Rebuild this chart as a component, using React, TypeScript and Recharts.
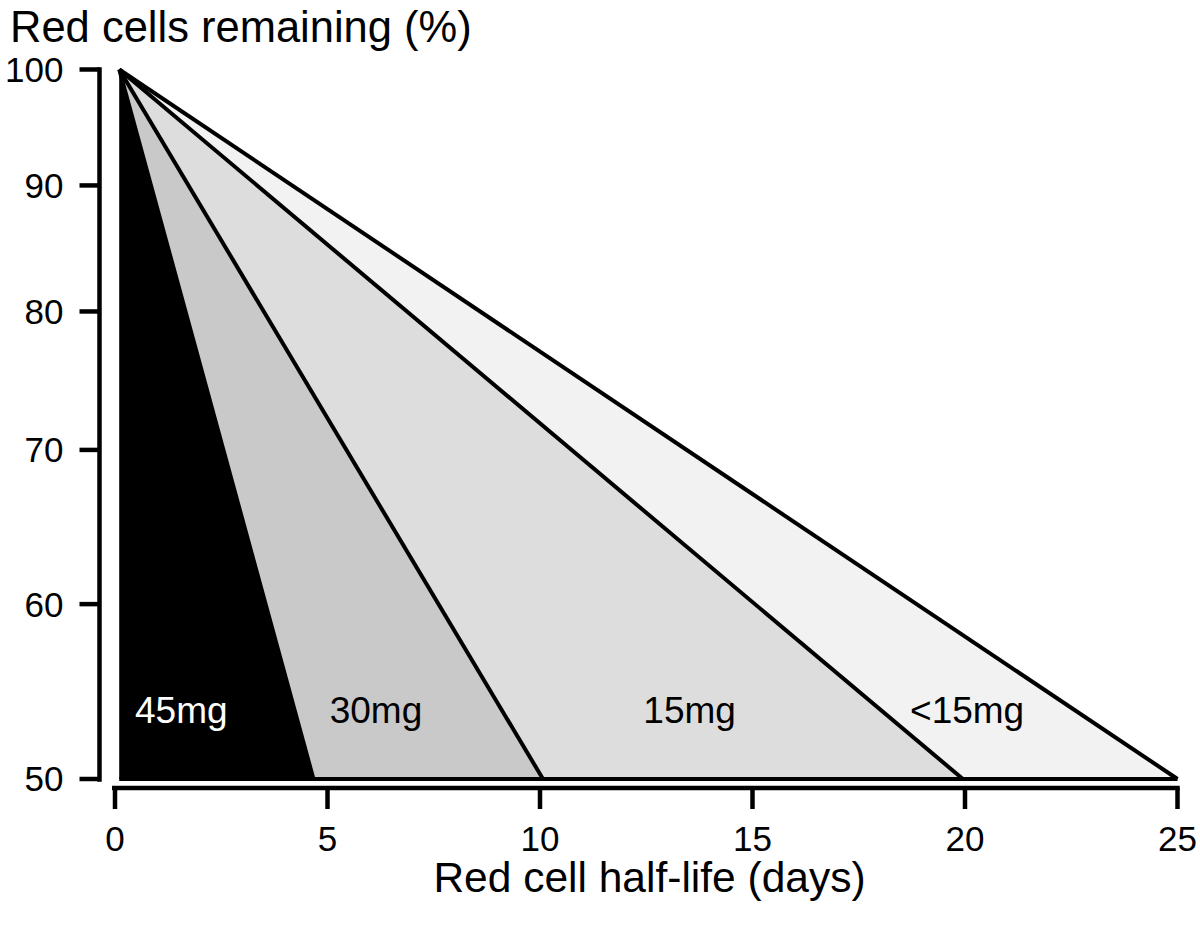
import React from 'react';
import { ComposedChart, Area, Line, XAxis, YAxis, ReferenceDot } from 'recharts';

// dose bands: each line runs from 100% at day ~0 down to 50% at endDays
const doses = ['45mg', '30mg', '15mg', '<15mg'];
const startDays = [0.1, 0.1, 0.1, 0.1];
const endDays = [4.67, 10.07, 19.95, 25];
const pctLevels = [100, 50];
const bandColors = ['#000000', '#c9c9c9', '#dddddd', '#f2f2f2'];

// text labels inside the bands
const labelDays = [1.56, 6.14, 13.52, 20.05];
const labelPct = [53.8, 53.8, 53.8, 53.8];
const labelColors = ['#ffffff', '#000000', '#000000', '#000000'];

// bottom edge of the shaded region
const baseDays = [0.1, 25];
const basePct = [50, 50];

const xTicks = [0, 5, 10, 15, 20, 25];
const yTicks = [50, 60, 70, 80, 90, 100];

const FONT = '"Liberation Sans", Arial, Helvetica, sans-serif';

// power scale (exponent 0.25) - the y axis in the figure is compressed like this
function makePowScale(exponent: number, dom: number[] = [0, 1], rng: number[] = [0, 1]) {
    let d = dom.slice();
    let r = rng.slice();
    const t = (v: number) => Math.sign(v) * Math.pow(Math.abs(v), exponent);
    const ti = (v: number) => Math.sign(v) * Math.pow(Math.abs(v), 1 / exponent);
    const scale: any = (v: number) => {
        const a = t(d[0]);
        const b = t(d[1]);
        return r[0] + ((t(Number(v)) - a) / (b - a)) * (r[1] - r[0]);
    };
    scale.domain = (nd?: number[]) => {
        if (nd === undefined) return d.slice();
        d = nd.map(Number);
        return scale;
    };
    scale.range = (nr?: number[]) => {
        if (nr === undefined) return r.slice();
        r = nr.map(Number);
        return scale;
    };
    scale.invert = (p: number) => {
        const a = t(d[0]);
        const b = t(d[1]);
        return ti(a + ((p - r[0]) / (r[1] - r[0])) * (b - a));
    };
    scale.ticks = (n = 10) => {
        const step = (d[1] - d[0]) / n;
        const out: number[] = [];
        for (let i = 0; i <= n; i++) out.push(d[0] + i * step);
        return out;
    };
    scale.tickFormat = () => (v: number) => String(v);
    scale.copy = () => makePowScale(exponent, d, r);
    return scale;
}

const pctScale = makePowScale(0.25);

export default function App() {
    // draw the biggest triangle first, smaller ones on top
    const order = [3, 2, 1, 0];

    return (
        <div style={{ position: 'absolute', left: 0, top: 0, width: 1200, height: 928, background: '#fff' }}>
            <ComposedChart
                width={1200}
                height={928}
                margin={{ top: 69.5, right: 22.5, bottom: 0, left: 0 }}
                style={{ fontFamily: FONT }}
            >
                <XAxis
                    type="number"
                    dataKey="day"
                    domain={[0, 25]}
                    ticks={xTicks}
                    interval={0}
                    padding={{ left: 15.5, right: 0 }}
                    height={140}
                    stroke="#000"
                    axisLine={{ stroke: '#000', strokeWidth: 4.5, strokeLinecap: 'square', strokeDasharray: '1100 3000', strokeDashoffset: -14.75 }}
                    tickLine={{ stroke: '#000', strokeWidth: 4.5 }}
                    tickSize={21}
                    tickMargin={17}
                    tick={{ fill: '#000', fontSize: 35, fontFamily: FONT }}
                    label={{
                        content: (props: any) => {
                            const vb = props.viewBox;
                            return (
                                <text x={vb.x + vb.width / 2 + 11} y={vb.y + 104} textAnchor="middle" fontSize={42.5} fontFamily={FONT} fill="#000">
                                    Red cell half-life (days)
                                </text>
                            );
                        },
                    }}
                />
                <YAxis
                    type="number"
                    domain={[50, 100]}
                    ticks={yTicks}
                    interval={0}
                    scale={pctScale}
                    padding={{ top: 0, bottom: 9 }}
                    width={99.5}
                    stroke="#000"
                    axisLine={{ stroke: '#000', strokeWidth: 4.5, strokeLinecap: 'square', strokeDasharray: '710 1000' }}
                    tickLine={{ stroke: '#000', strokeWidth: 4.5 }}
                    tickSize={20}
                    tickMargin={16}
                    tick={{ fill: '#000', fontSize: 35, fontFamily: FONT }}
                    label={{
                        content: (props: any) => {
                            const vb = props.viewBox;
                            return (
                                <text x={vb.x + 10} y={vb.y - 28} textAnchor="start" fontSize={43.5} fontFamily={FONT} fill="#000">
                                    Red cells remaining (%)
                                </text>
                            );
                        },
                    }}
                />

                {order.map((i) => (
                    <Area
                        key={doses[i]}
                        data={pctLevels.map((pct, k) => ({ day: k === 0 ? startDays[i] : endDays[i], pct }))}
                        dataKey="pct"
                        type="linear"
                        baseValue={50}
                        stroke="#000"
                        strokeWidth={4}
                        fill={bandColors[i]}
                        fillOpacity={1}
                        dot={false}
                        activeDot={false}
                        isAnimationActive={false}
                    />
                ))}

                <Line
                    data={baseDays.map((day, k) => ({ day, pct: basePct[k] }))}
                    dataKey="pct"
                    type="linear"
                    stroke="#000"
                    strokeWidth={4}
                    dot={false}
                    activeDot={false}
                    isAnimationActive={false}
                />

                {doses.map((name, i) => (
                    <ReferenceDot
                        key={name}
                        x={labelDays[i]}
                        y={labelPct[i]}
                        r={0}
                        stroke="none"
                        fill="none"
                        label={{ value: name, position: 'center', fill: labelColors[i], fontSize: 37, fontFamily: FONT }}
                    />
                ))}
            </ComposedChart>
        </div>
    );
}
